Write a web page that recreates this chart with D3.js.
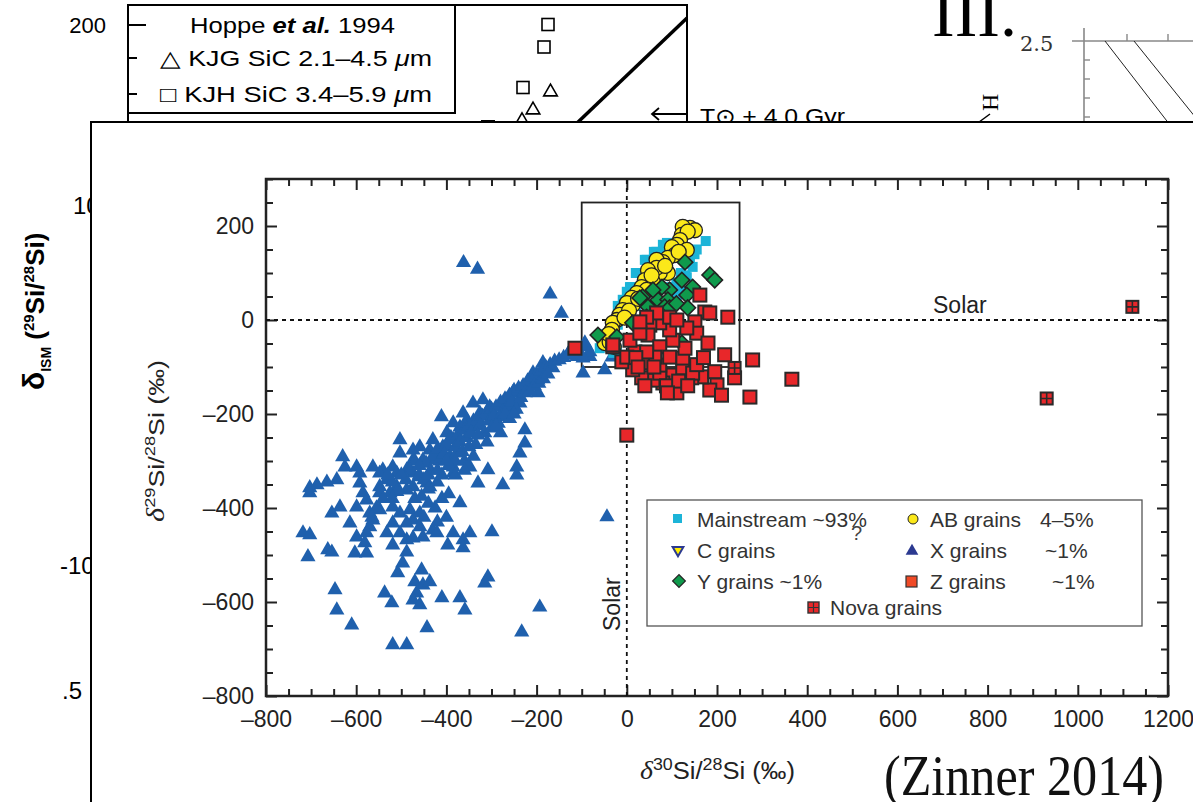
<!DOCTYPE html>
<html><head><meta charset="utf-8">
<script src="https://cdn.jsdelivr.net/npm/d3@7"></script>
<style>
html,body{margin:0;padding:0;background:#fff;}
svg{display:block;}
</style></head>
<body>
<svg id="chart" width="1193" height="802" font-family="'Liberation Sans',Arial,Helvetica,sans-serif"></svg>
<script>
// ---------------- DATA ----------------
const xTicks = [-800,-600,-400,-200,0,200,400,600,800,1000,1200];
const yTicks = [-800,-600,-400,-200,0,200];
const legendLabels = ["Mainstream ~93%","AB grains","C grains","X grains","Y grains ~1%","Z grains","Nova grains"];
const legendPct = ["4–5%","~1%","~1%"];

// X grains (blue triangles) [δ30Si, δ29Si]
const xGrains = [
[-362,122],[-331,108],[-170,55],[-145,14],[-131,-74],[-111,-78],[-89,-57],[-82,-78],[-97,-113],
[-186,-91],[-164,-102],[-208,-113],[-197,-128],[-197,-155],[-222,-142],[-253,-155],[-237,-177],[-266,-170],
[-253,-191],[-282,-206],[-275,-185],[-319,-170],[-304,-185],[-341,-177],[-326,-198],[-355,-213],[-363,-198],
[-341,-228],[-370,-228],[-385,-219],[-411,-206],[-399,-240],[-385,-255],[-408,-270],[-430,-255],[-437,-277],
[-459,-270],[-474,-277],[-503,-255],[-474,-298],[-452,-298],[-430,-298],[-415,-283],[-392,-291],[-377,-283],
[-385,-313],[-503,-283],[-519,-313],[-541,-319],[-563,-313],[-599,-313],[-630,-291],[-625,-313],[-643,-340],
[-665,-345],[-687,-351],[-703,-357],[-703,-368],[-592,-326],[-592,-347],[-585,-368],[-548,-326],[-548,-355],
[-532,-340],[-510,-326],[-488,-319],[-474,-326],[-459,-334],[-443,-347],[-437,-355],[-474,-355],[-488,-362],
[-510,-355],[-525,-368],[-548,-368],[-577,-383],[-599,-398],[-636,-398],[-654,-411],[-385,-326],[-348,-313],
[-308,-319],[-330,-347],[-275,-351],[-226,-234],[-226,-262],[-237,-283],[-244,-313],[-244,-330],[-370,-389],
[-570,-411],[-548,-404],[-519,-398],[-503,-411],[-481,-404],[-459,-411],[-474,-426],[-459,-440],[-488,-432],
[-519,-432],[-532,-453],[-570,-440],[-577,-453],[-599,-462],[-581,-474],[-614,-432],[-563,-426],[-503,-453],
[-488,-468],[-474,-464],[-452,-462],[-430,-447],[-421,-453],[-385,-453],[-348,-453],[-363,-468],[-397,-479],
[-363,-485],[-299,-451],[-519,-479],[-488,-494],[-718,-453],[-703,-457],[-663,-489],[-654,-494],[-707,-504],
[-603,-496],[-577,-496],[-497,-517],[-508,-538],[-455,-532],[-470,-557],[-452,-564],[-437,-557],[-466,-581],
[-474,-596],[-459,-606],[-410,-591],[-370,-591],[-359,-617],[-308,-547],[-315,-560],[-537,-581],[-521,-602],
[-647,-574],[-643,-617],[-610,-649],[-443,-655],[-519,-691],[-488,-691],[-233,-664],[-193,-611],[-44,-419],
[-93,-49],[-82,-68],[-97,-81],[-49,-106],[-33,-79],
[-430,-290],[-420,-275],[-400,-265],[-390,-250],[-375,-245],[-360,-235],[-350,-225],[-340,-215],[-330,-210],
[-320,-205],[-310,-195],[-300,-190],[-290,-185],[-280,-175],[-270,-168],[-260,-160],[-250,-150],[-240,-145],
[-230,-140],[-220,-130],[-210,-122],[-200,-115],[-190,-108],[-180,-100],[-170,-95],[-160,-88],[-150,-85],
[-140,-80],[-130,-72],[-445,-305],[-435,-320],[-415,-300],[-405,-285],[-395,-310],[-380,-270],[-370,-260],
[-365,-280],[-355,-250],[-345,-240],[-335,-265],[-325,-225],[-315,-240],[-305,-215],[-295,-205],[-285,-220],
[-275,-195],[-265,-185],[-255,-175],[-245,-190],[-235,-165],[-225,-155],[-215,-150],[-205,-140],[-195,-135],
[-185,-125],[-175,-115],[-470,-300],[-480,-320],[-460,-330],[-450,-340],[-440,-360],[-420,-345],[-410,-330],
[-490,-340],[-500,-330],[-520,-345],[-510,-365],[-530,-330],[-470,-380],[-455,-375],[-440,-390],[-425,-400],
[-410,-380],[-395,-370],[-400,-420],[-420,-430],[-450,-420],[-540,-380],[-555,-400],[-565,-420],[-520,-380],
[-300,-230],[-280,-240],[-260,-210],[-350,-270],[-330,-245],[-310,-260],[-290,-225],[-270,-200],[-250,-200],
[-380,-300],[-360,-300],[-340,-290],[-460,-310],[-440,-330],[-420,-320],[-400,-300],[-380,-330],[-360,-320]
];

// Mainstream grains (cyan squares)
const mainstream = [
[-60,-60],[-40,-40],[-30,-20],[-20,-10],[-10,0],[0,10],[10,20],[20,30],[20,50],[30,40],[30,60],[40,55],
[40,80],[50,70],[50,95],[60,90],[60,110],[70,100],[70,125],[80,115],[80,140],[90,130],[90,150],[100,140],
[100,160],[110,150],[120,160],[130,150],[140,120],[150,140],[155,150],[175,168],[120,100],[110,80],[100,60],
[90,70],[130,95],[20,100],[10,70],[0,40],[-10,20],[0,60],[-20,30],[40,128],[60,145],[80,160],[-30,-70],
[-50,-30],[-9,43],[7,70],[22,100],[44,128],[66,145],[89,164],[146,113],[133,91],[118,64],[111,43],[-22,-64],[-53,-38]
];

// AB grains (yellow circles)
const abGrains = [
[140,196],[151,191],[124,198],[122,181],[135,188],[118,170],[111,160],[100,155],[133,149],[106,138],[91,132],
[80,123],[66,128],[91,100],[73,100],[66,111],[47,106],[40,85],[58,81],[33,70],[44,64],[22,57],[11,47],[13,32],
[0,36],[-9,21],[-16,11],[-22,0],[-31,-6],[-33,-21],[-49,-49],[-38,-47],[-29,-57],[55,95],[25,45],[5,20],[-5,5],
[85,115],[115,145],[-40,-30]
];

// C grains (none visible in this view)
const cGrains = [];

// Y grains (green diamonds)
const yGrains = [
[129,123],[184,96],[195,85],[122,85],[146,70],[133,53],[95,64],[78,70],[69,43],[91,43],[58,64],[35,49],
[47,28],[29,47],[84,28],[95,26],[135,26],[122,-49],[47,-91],[-64,-32],[-22,-36],[13,-6],[44,6],[110,35],[60,10]
];

// Z grains (red squares)
const zGrains = [
[162,53],[173,17],[184,15],[224,6],[151,-4],[155,-28],[133,-17],[180,-49],[217,-74],[279,-85],[239,-123],
[273,-164],[366,-126],[200,-138],[184,-149],[166,-121],[144,-123],[111,-155],[102,-117],[80,-134],[58,-128],
[73,-113],[33,-123],[13,-106],[73,-96],[124,-102],[124,-81],[129,-60],[102,-43],[95,-21],[73,-6],[51,-11],
[47,-32],[73,-57],[62,-79],[35,-91],[18,-68],[7,-43],[29,-28],[-11,-89],[-31,-57],[0,-79],[44,-68],[95,-79],
[146,-113],[95,6],[111,0],[66,15],[44,6],[29,-4],[-115,-60],[0,-245],[-31,-53],[88,-140],[60,-100],[115,-130],[20,-80],
[135,-140],[155,-95],[170,-80],[195,-110],[210,-160],[90,-155],[40,-140],[25,-100]
];

// Nova grains
const novaGrains = [[239,-102],[931,-167],[1121,28]];

// Background fragment (Hoppe et al. 1994 panel)
const hoppeSquares = [[0.5,195],[0.42,170],[0.0,125]];
const hoppeTriangles = [[0.55,120],[0.2,100],[-0.02,88]];

// ---------------- DRAWING ----------------
const svg = d3.select("#chart");
const fmt = d => d < 0 ? "–" + Math.abs(d) : String(d);
const SERIF = "'Liberation Serif','Times New Roman',Times,serif";
const NARROW = "'Liberation Sans Narrow','Arial Narrow',sans-serif";

// ---- background fragment top-left ----
const bg = svg.append("g");
bg.append("rect").attr("x",128).attr("y",5).attr("width",559).attr("height",140)
  .attr("fill","#fff").attr("stroke","#000").attr("stroke-width",2);
bg.append("rect").attr("x",128).attr("y",5).attr("width",327).attr("height",108)
  .attr("fill","none").attr("stroke","#000").attr("stroke-width",2);
bg.append("line").attr("x1",128).attr("x2",146).attr("y1",25).attr("y2",25).attr("stroke","#000").attr("stroke-width",2);
[58,94].forEach(y=>bg.append("line").attr("x1",128).attr("x2",137).attr("y1",y).attr("y2",y).attr("stroke","#000").attr("stroke-width",2));
bg.append("text").attr("x",106).attr("y",33).attr("text-anchor","end").attr("font-size",22).text("200");
const hl = bg.append("text").attr("x",190).attr("y",33).attr("font-size",22).attr("textLength",205).attr("lengthAdjust","spacingAndGlyphs");
hl.append("tspan").text("Hoppe ");
hl.append("tspan").attr("font-weight","bold").attr("font-style","italic").text("et al.");
hl.append("tspan").text(" 1994");
const l1 = bg.append("text").attr("x",160).attr("y",66).attr("font-size",22).attr("textLength",272).attr("lengthAdjust","spacingAndGlyphs");
l1.append("tspan").text("△ KJG SiC 2.1–4.5 ");
l1.append("tspan").attr("font-style","italic").text("μ");
l1.append("tspan").text("m");
const l2 = bg.append("text").attr("x",160).attr("y",102).attr("font-size",22).attr("textLength",272).attr("lengthAdjust","spacingAndGlyphs");
l2.append("tspan").text("□ KJH SiC 3.4–5.9 ");
l2.append("tspan").attr("font-style","italic").text("μ");
l2.append("tspan").text("m");
const hx = d3.scaleLinear().domain([0,0.6]).range([523,553]);
const hy = d3.scaleLinear().domain([100,200]).range([110,20]);
hoppeSquares.forEach(d=>bg.append("rect").attr("x",hx(d[0])-6).attr("y",hy(d[1])-6).attr("width",12).attr("height",12)
  .attr("fill","none").attr("stroke","#000").attr("stroke-width",1.6));
hoppeTriangles.forEach(d=>bg.append("path").attr("transform",`translate(${hx(d[0])},${hy(d[1])})`)
  .attr("d",d3.symbol(d3.symbolTriangle,80)()).attr("fill","none").attr("stroke","#000").attr("stroke-width",1.6));
bg.append("line").attr("x1",576).attr("y1",124).attr("x2",687).attr("y2",18).attr("stroke","#000").attr("stroke-width",3.5);
bg.append("rect").attr("x",481).attr("y",120).attr("width",14).attr("height",3).attr("fill","#000");
bg.append("line").attr("x1",652).attr("x2",687).attr("y1",114).attr("y2",114).attr("stroke","#000").attr("stroke-width",1.8);
bg.append("path").attr("d","M659,108 L652,114 L659,120").attr("fill","none").attr("stroke","#000").attr("stroke-width",1.8);
bg.append("text").attr("x",700).attr("y",124).attr("font-size",22).attr("textLength",145).attr("lengthAdjust","spacingAndGlyphs").text("T⊙ + 4.0 Gyr");

// ---- background fragment top-right ----
const br = svg.append("g");
br.append("text").attr("x",932).attr("y",36).attr("font-family",SERIF).attr("font-size",68).text("III.");
br.append("text").attr("x",1020).attr("y",51).attr("font-family","'DejaVu Serif',serif").attr("font-size",21).attr("fill","#333").text("2.5");
br.append("line").attr("x1",1084).attr("x2",1084).attr("y1",28).attr("y2",125).attr("stroke","#888").attr("stroke-width",1.6);
br.append("line").attr("x1",1072).attr("x2",1193).attr("y1",41).attr("y2",41).attr("stroke","#888").attr("stroke-width",1.6);
[1127,1168].forEach(x=>br.append("line").attr("x1",x).attr("x2",x).attr("y1",34).attr("y2",41).attr("stroke","#888").attr("stroke-width",1.4));
[60,79,98,117].forEach(y=>br.append("line").attr("x1",1084).attr("x2",1090).attr("y1",y).attr("y2",y).attr("stroke","#888").attr("stroke-width",1.4));
br.append("line").attr("x1",1105).attr("y1",41).attr("x2",1170).attr("y2",125).attr("stroke","#222").attr("stroke-width",1);
br.append("line").attr("x1",1134).attr("y1",41).attr("x2",1196).attr("y2",118).attr("stroke","#222").attr("stroke-width",1);
br.append("text").attr("transform","translate(998,111) rotate(-90)").attr("font-family",SERIF).attr("font-size",24).text("H");
br.append("line").attr("x1",975).attr("y1",125).attr("x2",990).attr("y2",114).attr("stroke","#000").attr("stroke-width",1.5);

// ---- left fragment (δISM axis) ----
const lf = svg.append("g");
lf.append("text").attr("x",73).attr("y",214).attr("font-size",24).text("10");
lf.append("text").attr("x",60).attr("y",574).attr("font-size",24).text("-10");
lf.append("text").attr("x",62).attr("y",699).attr("font-size",24).text(".5");
const dl = lf.append("text").attr("transform","translate(44,390) rotate(-90)").attr("font-weight","bold").attr("font-size",26);
dl.append("tspan").attr("font-size",30).text("δ");
dl.append("tspan").attr("font-size",14).attr("dy",7).text("ISM");
dl.append("tspan").attr("dy",-7).text("  (");
dl.append("tspan").attr("font-size",15).attr("dy",-10).text("29");
dl.append("tspan").attr("dy",10).text("Si/");
dl.append("tspan").attr("font-size",15).attr("dy",-10).text("28");
dl.append("tspan").attr("dy",10).text("Si)");

// ---- main panel ----
svg.append("rect").attr("x",91).attr("y",122).attr("width",1120).attr("height",700)
  .attr("fill","#fff").attr("stroke","#000").attr("stroke-width",2);

const X0=266, X1=1168, Y0=696, Y1=179;
const x = d3.scaleLinear().domain([-800,1200]).range([X0,X1]);
const y = d3.scaleLinear().domain([-800,300]).range([Y0,Y1]);
const minorX = d3.range(-800,1201,50).filter(v=>v%200!==0);
const minorY = d3.range(-800,301,50).filter(v=>v%200!==0);

const g = svg.append("g");
function styleAxis(sel){ sel.select(".domain").remove(); sel.attr("font-family",null); sel.selectAll("line").attr("stroke","#222").attr("stroke-width",2); }
// bottom
g.append("g").attr("transform",`translate(0,${Y0})`).call(d3.axisBottom(x).tickValues(xTicks).tickSize(-11).tickPadding(10).tickFormat(fmt))
  .call(styleAxis).call(s=>s.selectAll("text").attr("font-family",NARROW).attr("font-size",23).attr("fill","#222").attr("dy","0.9em"));
g.append("g").attr("transform",`translate(0,${Y0})`).call(d3.axisBottom(x).tickValues(minorX).tickSize(-7).tickFormat("")).call(styleAxis);
// top
g.append("g").attr("transform",`translate(0,${Y1})`).call(d3.axisTop(x).tickValues(xTicks).tickSize(-11).tickFormat("")).call(styleAxis);
g.append("g").attr("transform",`translate(0,${Y1})`).call(d3.axisTop(x).tickValues(minorX).tickSize(-7).tickFormat("")).call(styleAxis);
// left
g.append("g").attr("transform",`translate(${X0},0)`).call(d3.axisLeft(y).tickValues(yTicks).tickSize(-11).tickPadding(12).tickFormat(fmt))
  .call(styleAxis).call(s=>s.selectAll("text").attr("font-size",23).attr("fill","#222"));
g.append("g").attr("transform",`translate(${X0},0)`).call(d3.axisLeft(y).tickValues(minorY).tickSize(-7).tickFormat("")).call(styleAxis);
// right
g.append("g").attr("transform",`translate(${X1},0)`).call(d3.axisRight(y).tickValues(yTicks).tickSize(-11).tickFormat("")).call(styleAxis);
g.append("g").attr("transform",`translate(${X1},0)`).call(d3.axisRight(y).tickValues(minorY).tickSize(-7).tickFormat("")).call(styleAxis);
// frame
g.append("rect").attr("x",X0).attr("y",Y1).attr("width",X1-X0).attr("height",Y0-Y1).attr("fill","none").attr("stroke","#222").attr("stroke-width",2.5);

// solar lines
g.append("line").attr("x1",x(-800)).attr("x2",x(1200)).attr("y1",y(0)).attr("y2",y(0)).attr("stroke","#111").attr("stroke-width",1.8).attr("stroke-dasharray","4,4");
g.append("line").attr("x1",x(0)).attr("x2",x(0)).attr("y1",y(-800)).attr("y2",y(300)).attr("stroke","#111").attr("stroke-width",1.8).attr("stroke-dasharray","4,4");
// inset box
g.append("rect").attr("x",x(-100)).attr("y",y(250)).attr("width",x(250)-x(-100)).attr("height",y(-100)-y(250))
  .attr("fill","none").attr("stroke","#222").attr("stroke-width",1.8);

// points
const pts = svg.append("g");
pts.selectAll(".xg").data(xGrains).join("path").attr("transform",d=>`translate(${x(d[0])},${y(d[1])})`)
  .attr("d",d3.symbol(d3.symbolTriangle,100)()).attr("fill","#1f60ad");
pts.selectAll(".ms").data(mainstream).join("rect").attr("x",d=>x(d[0])-5).attr("y",d=>y(d[1])-5).attr("width",10).attr("height",10).attr("fill","#1cb4d8");
pts.selectAll(".ab").data(abGrains).join("circle").attr("cx",d=>x(d[0])).attr("cy",d=>y(d[1])).attr("r",7.5)
  .attr("fill","#fbe81a").attr("stroke","#222").attr("stroke-width",1.3);
pts.selectAll(".cg").data(cGrains).join("path").attr("transform",d=>`translate(${x(d[0])},${y(d[1])}) rotate(180)`)
  .attr("d",d3.symbol(d3.symbolTriangle,60)()).attr("fill","#ffee00").attr("stroke","#2b3990").attr("stroke-width",2);
pts.selectAll(".yg").data(yGrains).join("rect").attr("transform",d=>`translate(${x(d[0])},${y(d[1])}) rotate(45)`)
  .attr("x",-5.5).attr("y",-5.5).attr("width",11).attr("height",11).attr("fill","#0f9a4c").attr("stroke","#222").attr("stroke-width",1.6);
pts.selectAll(".zg").data(zGrains).join("rect").attr("x",d=>x(d[0])-6.5).attr("y",d=>y(d[1])-6.5).attr("width",13).attr("height",13)
  .attr("fill","#e8272a").attr("stroke","#2a2a2a").attr("stroke-width",2);
const nova = pts.selectAll(".nv").data(novaGrains).join("g").attr("transform",d=>`translate(${x(d[0])},${y(d[1])})`);
nova.append("rect").attr("x",-6).attr("y",-6).attr("width",12).attr("height",12).attr("fill","#e8272a").attr("stroke","#2a2a2a").attr("stroke-width",2);
nova.append("path").attr("d","M0,-6V6M-6,0H6").attr("stroke","#2a2a2a").attr("stroke-width",1.6);

// Solar labels
svg.append("text").attr("x",933).attr("y",313).attr("font-size",23).attr("fill","#222").text("Solar");
svg.append("text").attr("transform",`translate(${x(0)-7},631) rotate(-90)`).attr("font-size",23).attr("fill","#222").text("Solar");

// axis titles
const xt = svg.append("text").attr("x",640).attr("y",779).attr("font-family",NARROW).attr("font-size",23).attr("fill","#222")
  .attr("textLength",155).attr("lengthAdjust","spacingAndGlyphs");
xt.append("tspan").attr("font-family",SERIF).attr("font-style","italic").attr("font-size",25).text("δ");
xt.append("tspan").attr("font-size",16).attr("dy",-9).text("30");
xt.append("tspan").attr("dy",9).text("Si/");
xt.append("tspan").attr("font-size",16).attr("dy",-9).text("28");
xt.append("tspan").attr("dy",9).text("Si (‰)");
const yt = svg.append("text").attr("transform","translate(164,522) rotate(-90)").attr("font-size",22).attr("fill","#222")
  .attr("textLength",162).attr("lengthAdjust","spacingAndGlyphs");
yt.append("tspan").attr("font-family",SERIF).attr("font-style","italic").attr("font-size",25).text("δ");
yt.append("tspan").attr("font-size",15).attr("dy",-9).text("29");
yt.append("tspan").attr("dy",9).text("Si/");
yt.append("tspan").attr("font-size",15).attr("dy",-9).text("28");
yt.append("tspan").attr("dy",9).text("Si (‰)");

// legend
const lg = svg.append("g");
lg.append("rect").attr("x",647).attr("y",500).attr("width",495).attr("height",126).attr("fill","#fff").attr("stroke","#555").attr("stroke-width",1.3);
const lt = (x0,y0,t)=>lg.append("text").attr("x",x0).attr("y",y0).attr("font-size",21).attr("fill","#333").attr("dominant-baseline","central").text(t);
lg.append("rect").attr("x",673).attr("y",514).attr("width",9).attr("height",9).attr("fill","#1cb4d8");
lt(697,519,legendLabels[0]);
lg.append("circle").attr("cx",913).attr("cy",519).attr("r",5).attr("fill","#fbe81a").attr("stroke","#222").attr("stroke-width",1);
lt(930,519,legendLabels[1]); lt(1040,519,legendPct[0]);
lg.append("path").attr("transform","translate(678,550) rotate(180)").attr("d",d3.symbol(d3.symbolTriangle,50)()).attr("fill","#ffee00").attr("stroke","#2b3990").attr("stroke-width",2);
lt(697,550,legendLabels[2]);
lg.append("path").attr("transform","translate(912,551)").attr("d",d3.symbol(d3.symbolTriangle,70)()).attr("fill","#2b3990");
lt(930,550,legendLabels[3]); lt(1045,550,legendPct[1]);
lg.append("rect").attr("transform","translate(679,581) rotate(45)").attr("x",-4.5).attr("y",-4.5).attr("width",9).attr("height",9).attr("fill","#0f9a4c").attr("stroke","#222").attr("stroke-width",1.2);
lt(697,581,legendLabels[4]);
lg.append("rect").attr("x",906).attr("y",576).attr("width",11).attr("height",11).attr("fill","#f04a26").attr("stroke","#333").attr("stroke-width",1.2);
lt(930,581,legendLabels[5]); lt(1052,581,legendPct[2]);
lg.append("rect").attr("x",808).attr("y",602).attr("width",11).attr("height",11).attr("fill","#e8272a").attr("stroke","#333").attr("stroke-width",1.4);
lg.append("path").attr("d","M813.5,602V613M808,607.5H819").attr("stroke","#333").attr("stroke-width",1.2);
lt(830,607,legendLabels[6]);
lg.append("text").attr("x",851).attr("y",540).attr("font-size",20).attr("fill","#444").text("?");

// citation
svg.append("text").attr("x",884).attr("y",795).attr("font-family",SERIF).attr("font-size",58)
  .attr("textLength",280).attr("lengthAdjust","spacingAndGlyphs").attr("fill","#111").text("(Zinner 2014)");
</script>
</body></html>
